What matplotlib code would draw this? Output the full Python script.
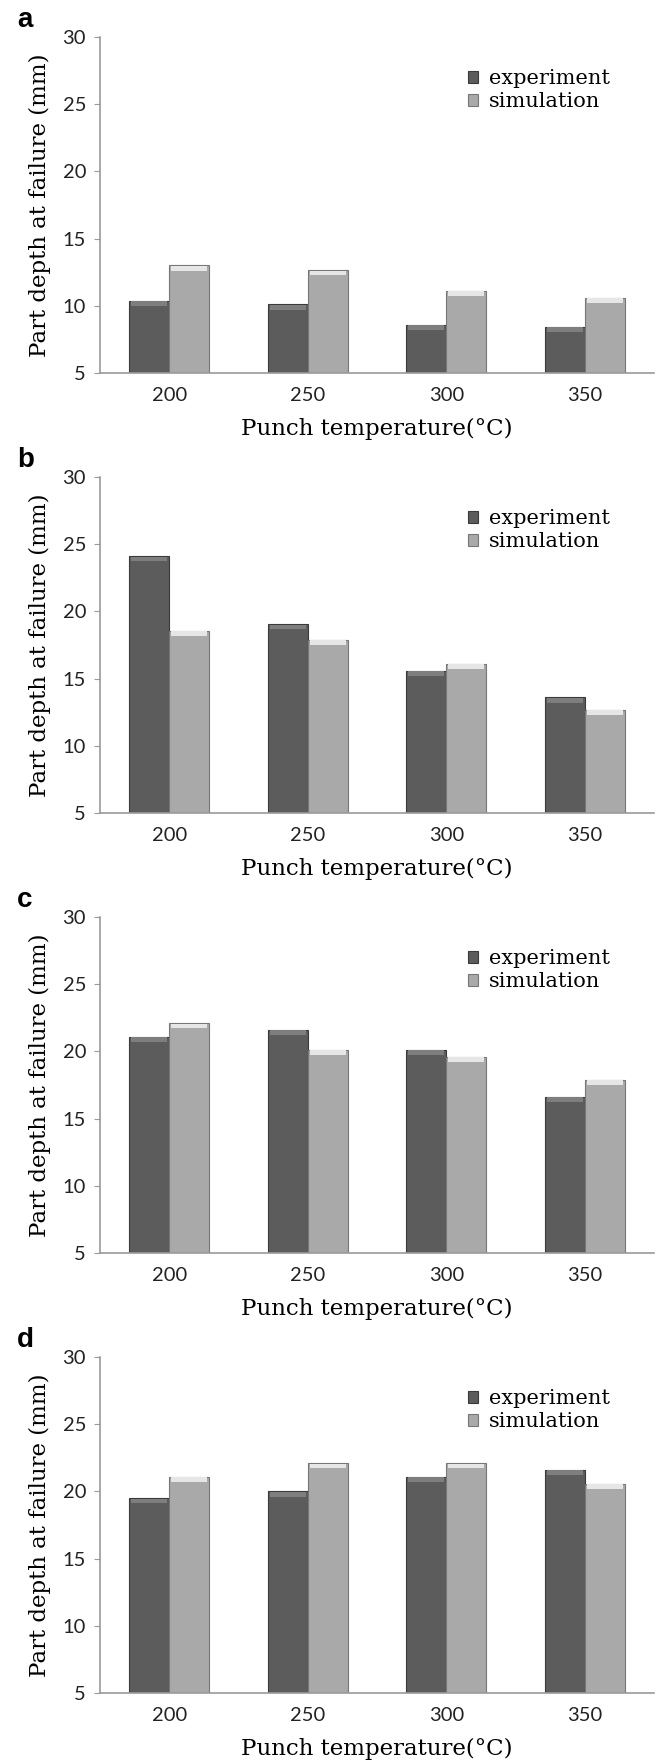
import numpy as np
import matplotlib.pyplot as plt

# data
temps = ['200', '250', '300', '350']
panels = ['a', 'b', 'c', 'd']
exp_a = [10.35, 10.1, 8.6, 8.45]
sim_a = [13.0, 12.65, 11.1, 10.6]
exp_b = [24.1, 19.05, 15.6, 13.6]
sim_b = [18.55, 17.9, 16.1, 12.7]
exp_c = [21.1, 21.6, 20.1, 16.6]
sim_c = [22.1, 20.1, 19.6, 17.9]
exp_d = [19.5, 20.0, 21.1, 21.6]
sim_d = [21.1, 22.1, 22.1, 20.55]

experiment = [exp_a, exp_b, exp_c, exp_d]
simulation = [sim_a, sim_b, sim_c, sim_d]

W, H = 656, 1764
fig = plt.figure(figsize=(W / 100, H / 100), dpi=100)

serif = 'DejaVu Serif'
sans = 'Lato'
x = np.arange(len(temps))
bw = 0.29

for k in range(4):
    top = 440 * k + 37
    bot = 440 * k + 373
    ax = fig.add_axes([100 / W, 1 - bot / H, 554 / W, (bot - top) / H])

    e = np.array(experiment[k])
    s = np.array(simulation[k])
    ax.bar(x - bw / 2, e, bw, color='#5c5c5c', edgecolor='#3a3a3a', lw=0.8,
           label='experiment', zorder=2)
    ax.bar(x + bw / 2, s, bw, color='#a9a9a9', edgecolor='#777777', lw=0.8,
           label='simulation', zorder=2)
    # bevelled caps on top of the bars
    ax.bar(x - bw / 2, 0.35, bw * 0.9, bottom=e - 0.38, color='#7e7e7e', lw=0, zorder=3)
    ax.bar(x + bw / 2, 0.35, bw * 0.9, bottom=s - 0.38, color='#e6e6e6', lw=0, zorder=3)

    ax.set_xlim(-0.5, 3.5)
    ax.set_ylim(5, 30)
    ax.set_yticks([5, 10, 15, 20, 25, 30])
    ax.set_xticks(x)
    ax.set_xticklabels(temps)
    for sp in ['top', 'right']:
        ax.spines[sp].set_visible(False)
    for sp in ['left', 'bottom']:
        ax.spines[sp].set_color('#9a9a9a')
        ax.spines[sp].set_linewidth(1.2)
    ax.tick_params(axis='y', length=4, color='#9a9a9a', pad=6, labelsize=14.5)
    ax.tick_params(axis='x', length=0, pad=10, labelsize=14.5)
    for t in ax.get_xticklabels() + ax.get_yticklabels():
        t.set_fontfamily(sans)
        t.set_color('#222222')

    ax.set_ylabel('Part depth at failure (mm)', fontsize=16.5, family=serif, labelpad=8)
    ax.set_xlabel('Punch temperature(°C)', fontsize=16.5, family=serif, labelpad=10)

    ax.legend(loc='upper left', bbox_to_anchor=(0.63, 0.96), frameon=False,
              prop={'family': serif, 'size': 15}, handlelength=0.5, handleheight=0.5,
              handletextpad=0.5, labelspacing=0.2)

    fig.text(17 / W, 1 - (440 * k + 20) / H, panels[k], fontsize=20, fontweight='bold',
             family='Liberation Sans', va='center', ha='left')

fig.savefig('out.png', dpi=100)
